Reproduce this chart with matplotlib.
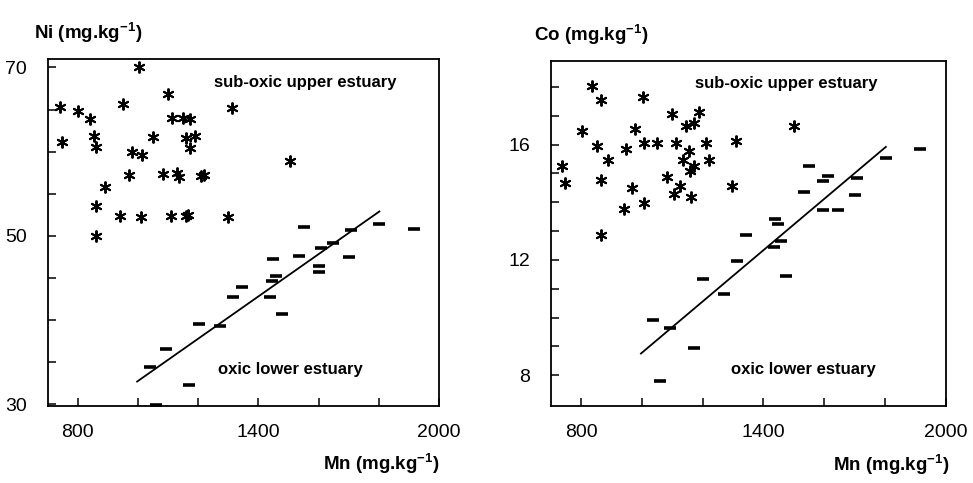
import numpy as np
import matplotlib
matplotlib.use("Agg")
import matplotlib.pyplot as plt
from matplotlib.ticker import FixedLocator
from matplotlib import font_manager

names = {f.name for f in font_manager.fontManager.ttflist}
NARROW = 'Liberation Sans Narrow' if 'Liberation Sans Narrow' in names else 'Liberation Sans'
narrow_ok = NARROW == 'Liberation Sans Narrow'

plt.rcParams['font.family'] = [NARROW, 'DejaVu Sans']
plt.rcParams['mathtext.fontset'] = 'custom'
plt.rcParams['mathtext.rm'] = NARROW
plt.rcParams['mathtext.it'] = NARROW
plt.rcParams['mathtext.bf'] = NARROW + ':bold'

# ---------------- Ni vs Mn ----------------
ni_sub_mn = [741, 746, 802, 839, 854, 861, 890, 861, 861, 950, 1003, 979, 1013, 970,
             941, 1009, 1050, 1100, 1113, 1083, 1128, 1137, 1111, 1148, 1174, 1159,
             1188, 1172, 1161, 1167, 1209, 1220, 1298, 1313, 1506]
ni_sub_ni = [65.3, 61.2, 64.8, 63.9, 61.9, 60.6, 55.8, 53.5, 50.0, 65.6, 70.0, 59.9,
             59.6, 57.2, 52.3, 52.2, 61.7, 66.9, 64.0, 57.4, 57.5, 57.0, 52.3, 64.0,
             63.9, 61.6, 61.8, 60.4, 52.3, 52.5, 57.1, 57.2, 52.2, 65.2, 58.9]

ni_ox_mn = [1039, 1094, 1061, 1170, 1201, 1271, 1314, 1344, 1437, 1444, 1458, 1450,
            1478, 1536, 1550, 1608, 1601, 1601, 1647, 1706, 1700, 1800, 1917]
ni_ox_ni = [34.4, 36.6, 29.9, 32.3, 39.5, 39.3, 42.7, 43.9, 42.7, 44.6, 45.2, 47.2,
            40.7, 47.6, 51.0, 48.6, 46.4, 45.7, 49.2, 50.7, 47.5, 51.4, 50.8]

ni_fit_mn = [997, 1802]
ni_fit_ni = [32.7, 52.9]

# ---------------- Co vs Mn ----------------
co_sub_mn = [738, 747, 802, 837, 864, 853, 889, 864, 864, 947, 941, 968, 978, 1003,
             1007, 1006, 1049, 1082, 1098, 1113, 1107, 1127, 1135, 1144, 1156, 1158,
             1171, 1172, 1162, 1189, 1212, 1221, 1296, 1310, 1500]
co_sub_co = [15.26, 14.67, 16.46, 18.03, 17.53, 15.95, 15.47, 14.76, 12.88, 15.86,
             13.77, 14.48, 16.55, 17.64, 16.06, 13.96, 16.06, 14.87, 17.05, 16.06,
             14.27, 14.57, 15.46, 16.65, 15.78, 15.08, 16.75, 15.27, 14.18, 17.14,
             16.06, 15.46, 14.55, 16.14, 16.64]

co_ox_mn = [1059, 1037, 1093, 1172, 1201, 1269, 1313, 1344, 1435, 1439, 1448, 1458,
            1475, 1532, 1551, 1596, 1611, 1596, 1647, 1707, 1702, 1804, 1916]
co_ox_co = [7.80, 9.93, 9.62, 8.94, 11.34, 10.82, 11.95, 12.85, 12.44, 13.43, 13.24,
            12.65, 11.43, 14.36, 15.26, 14.73, 14.91, 13.74, 13.74, 14.84, 14.24,
            15.54, 15.84]

co_fit_mn = [997, 1803]
co_fit_co = [8.75, 15.92]

W, H = 973, 483
fig = plt.figure(figsize=(W / 100, H / 100), dpi=100)

def px_rect(l, r, t, b):
    return [l / W, 1 - b / H, (r - l) / W, (b - t) / H]

ax1 = fig.add_axes(px_rect(47.7, 439, 59, 406))
ax2 = fig.add_axes(px_rect(550.7, 945.7, 61, 406))

tick_size = 17 if narrow_ok else 14
ann_size = 14.5 if narrow_ok else 12
lab_size = 17 if narrow_ok else 13.5

star = (6, 2, 0)
for ax, sx, sy, ox, oy, fx, fy in [
        (ax1, ni_sub_mn, ni_sub_ni, ni_ox_mn, ni_ox_ni, ni_fit_mn, ni_fit_ni),
        (ax2, co_sub_mn, co_sub_co, co_ox_mn, co_ox_co, co_fit_mn, co_fit_co)]:
    ax.plot(sx, sy, linestyle='none', marker=star, markersize=8.5,
            markeredgewidth=1.4, color='black', clip_on=False)
    ax.plot(ox, oy, linestyle='none', marker='_', markersize=9,
            markeredgewidth=2.6, color='black', clip_on=True)
    ax.plot(fx, fy, color='black', linewidth=1.3)
    ax.set_xlim(700, 2000)
    ax.xaxis.set_major_locator(FixedLocator([800, 1400, 2000]))
    ax.xaxis.set_minor_locator(FixedLocator([1000, 1200, 1600, 1800]))
    ax.tick_params(which='both', direction='in', length=6, width=1.1,
                   top=False, right=False, labelsize=tick_size)
    ax.tick_params(axis='y', pad=15)
    ax.tick_params(axis='x', pad=13)
    for s in ax.spines.values():
        s.set_linewidth(1.3)

ax1.set_ylim(29.8, 71)
ax1.yaxis.set_major_locator(FixedLocator([30, 50, 70]))
ax1.yaxis.set_minor_locator(FixedLocator([35, 40, 45, 55, 60, 65]))

ax2.set_ylim(6.93, 18.9)
ax2.yaxis.set_major_locator(FixedLocator([8, 12, 16]))
ax2.yaxis.set_minor_locator(FixedLocator([9, 10, 11, 13, 14, 15, 17, 18]))

ann = dict(fontsize=ann_size, fontweight='bold', ha='center', va='center')
ax1.text(1556, 68.2, 'sub-oxic upper estuary', **ann)
ax1.text(1507, 34.1, 'oxic lower estuary', **ann)
ax2.text(1474, 18.13, 'sub-oxic upper estuary', **ann)
ax2.text(1531, 8.21, 'oxic lower estuary', **ann)

lab = dict(fontsize=lab_size, fontweight='bold', va='center')
fig.text(34 / W, 1 - 33 / H, r'Ni (mg.kg$^{\mathbf{-1}}$)', ha='left', **lab)
fig.text(534 / W, 1 - 35 / H, r'Co (mg.kg$^{\mathbf{-1}}$)', ha='left', **lab)
fig.text(440 / W, 1 - 464 / H, r'Mn (mg.kg$^{\mathbf{-1}}$)', ha='right', **lab)
fig.text(950 / W, 1 - 465 / H, r'Mn (mg.kg$^{\mathbf{-1}}$)', ha='right', **lab)

fig.savefig('out.png', dpi=100)
